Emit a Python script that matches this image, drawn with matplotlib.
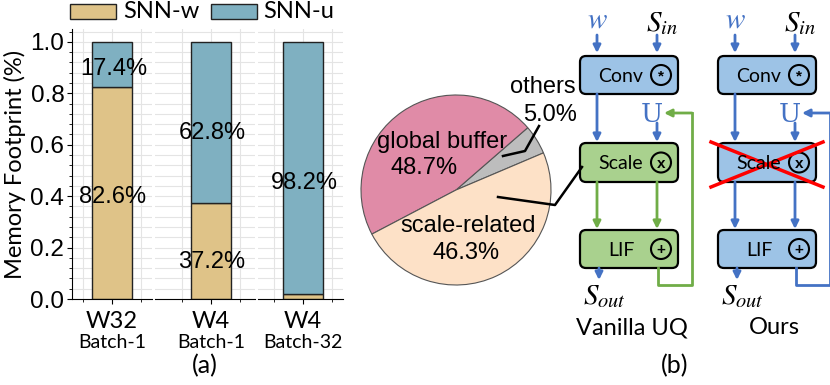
import numpy as np
import matplotlib
matplotlib.use('Agg')
import matplotlib.pyplot as plt
from matplotlib.patches import FancyBboxPatch, Circle, Rectangle
from matplotlib.ticker import MultipleLocator, FixedLocator

plt.rcParams['font.family'] = ['Liberation Sans', 'DejaVu Sans']
plt.rcParams['mathtext.fontset'] = 'stix'
CAL = ['Lato', 'DejaVu Sans']

# ---- data (a): memory footprint split
configs = ['W32', 'W4', 'W4']
batches = ['Batch-1', 'Batch-1', 'Batch-32']
snn_w = [0.826, 0.372, 0.018]
snn_u = [0.174, 0.628, 0.982]
w_label_y = [0.395, 0.145, None]
u_label_y = [0.895, 0.645, 0.45]
series_names = ['SNN-w', 'SNN-u']

# ---- data (b): pie of memory
# wedge sizes as drawn in the figure (gray, pink, peach); labels as printed
pie_vals = [5.0, 46.3, 48.7]
pie_names = ['others', 'global buffer', 'scale-related']
pie_pcts = ['5.0%', '48.7%', '46.3%']

c_w = '#dfc388'
c_u = '#7fb0c1'
pie_cols = ['#bdbdbd', '#e08ba7', '#fde1c7']

fig = plt.figure(figsize=(8.3, 3.85), dpi=100)

# three little bar panels (pixel boxes converted to fig fraction)
W, H = 830., 385.
panels = [(72, 152, 112), (155, 255, 211), (258, 343, 303)]
unit = 29.0
bw = 40 / unit
for i, (l, r, c) in enumerate(panels):
    ax = fig.add_axes([l / W, (H - 299) / H, (r - l) / W, 270 / H])
    ax.set_axisbelow(True)
    ax.bar([0], [snn_w[i]], bw, color=c_w, edgecolor='#222222', lw=1, zorder=2)
    ax.bar([0], [snn_u[i]], bw, bottom=[snn_w[i]], color=c_u, edgecolor='#222222', lw=1, zorder=2)
    ax.set_xlim((l - c) / unit, (r - c) / unit)
    ax.set_ylim(0, 1.05)
    ax.set_xticks([0])
    ax.set_xticklabels([configs[i]], fontsize=17, family=CAL)
    ax.xaxis.set_minor_locator(FixedLocator([-1, 1]))
    ax.yaxis.set_major_locator(MultipleLocator(0.2))
    ax.yaxis.set_minor_locator(MultipleLocator(0.04))
    ax.grid(True, which='both', color='#e4e4e4', lw=0.8)
    ax.tick_params(axis='x', which='major', pad=5)
    for s in ['top', 'right']:
        ax.spines[s].set_visible(False)
    if i > 0:
        ax.spines['left'].set_visible(False)
        ax.tick_params(axis='y', which='both', left=False, labelleft=False)
    else:
        ax.tick_params(axis='y', labelsize=17.5, pad=2)
        ax.set_ylabel('Memory Footprint (%)', fontsize=17, family=CAL, labelpad=3)
    ax.text(0, -0.16, batches[i], transform=ax.get_xaxis_transform(), ha='center', va='center',
            fontsize=14, family=CAL)
    if w_label_y[i] is not None:
        ax.text(0.03, w_label_y[i], '%.1f%%' % (snn_w[i] * 100), ha='center', va='center', fontsize=17)
    ax.text(0.05, u_label_y[i], '%.1f%%' % (snn_u[i] * 100), ha='center', va='center', fontsize=17)

# pie
axp = fig.add_axes([361 / W, (H - 285) / H, 190 / W, 190 / H])
axp.pie(pie_vals, colors=pie_cols, startangle=23, counterclock=True,
        wedgeprops=dict(edgecolor='#555555', linewidth=0.8))
axp.set_aspect('auto')
axp.set_xlim(-1, 1)
axp.set_ylim(-1, 1)

# overlay in pixel coords for annotations + block diagram
ov = fig.add_axes([0, 0, 1, 1], zorder=5)
ov.set_xlim(0, W)
ov.set_ylim(H, 0)
ov.axis('off')

# legend for (a), drawn by hand to match the wide swatches
for (x0, tx), col, name in zip([(70, 123), (211, 263)], [c_w, c_u], series_names):
    ov.add_patch(Rectangle((x0, 4), 46, 15, fc=col, ec='#222222', lw=1))
    ov.text(tx, 12, name, ha='left', va='center', fontsize=17, family=CAL)

# pie labels
ov.text(442, 142, pie_names[1], ha='center', va='center', fontsize=17)
ov.text(424, 168, pie_pcts[1], ha='center', va='center', fontsize=17)
ov.text(468, 226, pie_names[2], ha='center', va='center', fontsize=17)
ov.text(466, 253, pie_pcts[2], ha='center', va='center', fontsize=17)
ov.text(543, 87, pie_names[0], ha='center', va='center', fontsize=17)
ov.text(550, 115, pie_pcts[0], ha='center', va='center', fontsize=17)
ov.plot([503, 525, 539], [156, 151, 126], color='k', lw=1.8)
ov.plot([498, 555, 582], [197, 205, 167], color='k', lw=1.8)

ov.text(205, 366, '(a)', ha='center', va='center', fontsize=18, family=CAL)
ov.text(675, 366, '(b)', ha='center', va='center', fontsize=18, family=CAL)

BLUE = '#4472c4'
GREEN = '#70ad47'
FB = '#9dc3e6'
FG = '#a9d18e'


def box(x0, y0, x1, y1, fc, txt, sym):
    p = FancyBboxPatch((x0, y0), x1 - x0, y1 - y0, boxstyle='round,pad=0,rounding_size=6',
                       fc=fc, ec='k', lw=1.6)
    ov.add_patch(p)
    yc = (y0 + y1) / 2
    ov.text(x0 + 41, yc + 1, txt, ha='center', va='center', fontsize=14, family=CAL)
    ov.add_patch(Circle((x0 + 81, yc), 10, fc='none', ec='k', lw=1.5))
    ov.text(x0 + 81, yc + 1, sym, ha='center', va='center', fontsize=11, fontweight='bold')


def arrow(x0, y0, x1, y1, col):
    ov.annotate('', xy=(x1, y1), xytext=(x0, y0),
                arrowprops=dict(arrowstyle='-|>', color=col, lw=2, mutation_scale=11,
                                shrinkA=0, shrinkB=0))


for k, xo in enumerate([580, 718]):
    xl = xo + 17
    xr = xo + 77
    x1 = xo + 98
    fc_s = FG if k == 0 else FB
    ac = GREEN if k == 0 else BLUE
    box(xo, 56, x1, 94, FB, 'Conv', '*')
    box(xo, 143, x1, 182, fc_s, 'Scale', 'x')
    box(xo, 230, x1, 268, fc_s, 'LIF', '+')
    ov.text(xl, 20, '$w$', ha='center', va='center', fontsize=21, color=BLUE)
    ov.text(xr + 5, 23, '$S_{in}$', ha='center', va='center', fontsize=21)
    arrow(xl, 35, xl, 53, BLUE)
    arrow(xr, 35, xr, 53, BLUE)
    arrow(xl, 94, xl, 142, BLUE)
    ov.text(xr - 5, 114, 'U', ha='center', va='center', fontsize=19, color=BLUE, family='DejaVu Serif')
    arrow(xr, 123, xr, 142, BLUE)
    arrow(xl, 182, xl, 229, ac)
    arrow(xr, 182, xr, 229, ac)
    arrow(xo + 19, 268, xo + 19, 280, BLUE)
    ov.text(xo + 24, 296, '$S_{out}$', ha='center', va='center', fontsize=21)
    rx = x1 + 14
    ov.plot([xr + 1, xr + 1, rx, rx], [268, 285, 285, 113], color=ac, lw=2)
    arrow(rx, 113, xr + 7, 113, ac)

# red cross on the removed scale block (ours)
ov.plot([711, 823], [142, 187], color='red', lw=2.5)
ov.plot([711, 823], [187, 142], color='red', lw=2.5)

ov.text(632, 328, 'Vanilla UQ', ha='center', va='center', fontsize=17, family=CAL)
ov.text(774, 328, 'Ours', ha='center', va='center', fontsize=17, family=CAL)

fig.savefig('out.png', dpi=100)
